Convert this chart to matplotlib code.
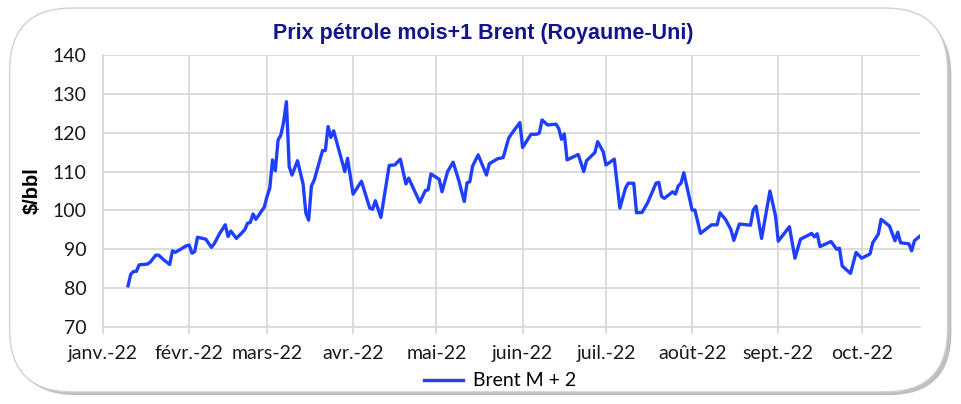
import matplotlib
matplotlib.use("Agg")
import matplotlib.pyplot as plt
from matplotlib.patches import FancyBboxPatch
import numpy as np

title = "Prix pétrole mois+1 Brent (Royaume-Uni)"
y_label = "$/bbl"
series_name = "Brent M + 2"

dates = [
    "2022-01-10", "2022-01-11", "2022-01-12", "2022-01-13", "2022-01-14", "2022-01-17",
    "2022-01-18", "2022-01-20", "2022-01-21", "2022-01-23", "2022-01-25", "2022-01-26",
    "2022-01-27", "2022-01-31", "2022-02-01", "2022-02-02", "2022-02-03", "2022-02-04",
    "2022-02-07", "2022-02-09", "2022-02-10", "2022-02-12", "2022-02-14", "2022-02-15",
    "2022-02-16", "2022-02-18", "2022-02-21", "2022-02-22", "2022-02-23", "2022-02-24",
    "2022-02-25", "2022-02-28", "2022-03-01", "2022-03-02", "2022-03-03", "2022-03-04",
    "2022-03-05", "2022-03-06", "2022-03-07", "2022-03-08", "2022-03-09", "2022-03-10",
    "2022-03-12", "2022-03-14", "2022-03-15", "2022-03-16", "2022-03-17", "2022-03-18",
    "2022-03-21", "2022-03-22", "2022-03-23", "2022-03-24", "2022-03-25", "2022-03-29",
    "2022-03-30", "2022-04-01", "2022-04-04", "2022-04-07", "2022-04-08", "2022-04-09",
    "2022-04-11", "2022-04-14", "2022-04-16", "2022-04-18", "2022-04-20", "2022-04-21",
    "2022-04-25", "2022-04-27", "2022-04-28", "2022-04-29", "2022-05-02", "2022-05-03",
    "2022-05-05", "2022-05-07", "2022-05-09", "2022-05-11", "2022-05-12", "2022-05-13",
    "2022-05-14", "2022-05-16", "2022-05-19", "2022-05-20", "2022-05-23", "2022-05-25",
    "2022-05-27", "2022-05-28", "2022-05-31", "2022-06-01", "2022-06-04", "2022-06-06",
    "2022-06-07", "2022-06-08", "2022-06-10", "2022-06-13", "2022-06-14", "2022-06-15",
    "2022-06-16", "2022-06-17", "2022-06-21", "2022-06-23", "2022-06-24", "2022-06-27",
    "2022-06-28", "2022-06-30", "2022-07-01", "2022-07-04", "2022-07-06", "2022-07-08",
    "2022-07-09", "2022-07-11", "2022-07-12", "2022-07-14", "2022-07-16", "2022-07-19",
    "2022-07-20", "2022-07-21", "2022-07-22", "2022-07-25", "2022-07-26", "2022-07-27",
    "2022-07-28", "2022-07-29", "2022-08-01", "2022-08-02", "2022-08-04", "2022-08-08",
    "2022-08-10", "2022-08-11", "2022-08-13", "2022-08-15", "2022-08-16", "2022-08-18",
    "2022-08-22", "2022-08-23", "2022-08-24", "2022-08-26", "2022-08-29", "2022-08-31",
    "2022-09-01", "2022-09-05", "2022-09-07", "2022-09-09", "2022-09-12", "2022-09-13",
    "2022-09-14", "2022-09-15", "2022-09-16", "2022-09-20", "2022-09-22", "2022-09-23",
    "2022-09-24", "2022-09-27", "2022-09-29", "2022-10-01", "2022-10-04", "2022-10-05",
    "2022-10-07", "2022-10-08", "2022-10-11", "2022-10-13", "2022-10-14", "2022-10-15",
    "2022-10-18", "2022-10-19", "2022-10-20", "2022-10-22",
]

brent = [
    80.6, 83.6, 84.3, 84.3, 86.0, 86.2,
    86.7, 88.5, 88.5, 87.2, 86.1, 89.6,
    89.2, 90.9, 91.1, 89.0, 89.4, 93.1,
    92.6, 90.5, 91.4, 94.1, 96.3, 93.3,
    94.7, 92.8, 95.0, 96.7, 96.9, 99.1,
    97.7, 100.8, 103.5, 105.7, 113.0, 110.2,
    118.1, 119.4, 122.8, 128.0, 111.3, 109.1,
    112.8, 106.8, 99.3, 97.5, 106.3, 107.8,
    115.4, 115.4, 121.6, 118.8, 120.5, 110.0,
    113.4, 104.2, 107.5, 100.6, 100.3, 102.5,
    98.2, 111.6, 111.7, 113.2, 106.8, 108.3,
    102.1, 105.1, 105.3, 109.4, 108.0, 104.8,
    110.0, 112.4, 107.8, 102.3, 107.1, 107.4,
    111.4, 114.3, 109.1, 112.0, 113.3, 113.6,
    118.6, 119.7, 122.6, 116.2, 119.6, 119.6,
    119.9, 123.3, 122.0, 122.2, 121.1, 118.3,
    119.7, 113.0, 114.4, 110.0, 112.8, 114.9,
    117.7, 115.1, 111.7, 113.2, 100.6, 105.7,
    107.0, 107.0, 99.4, 99.5, 102.0, 107.0,
    107.2, 103.6, 103.1, 104.8, 104.2, 106.3,
    107.0, 109.7, 100.1, 100.1, 94.1, 96.3,
    96.3, 99.4, 97.7, 95.0, 92.3, 96.5,
    96.2, 100.1, 101.1, 92.8, 105.0, 98.6,
    92.1, 95.8, 87.7, 92.6, 93.7, 94.1,
    93.2, 94.0, 90.7, 92.0, 90.0, 90.3,
    85.7, 83.8, 89.2, 87.7, 88.8, 91.7,
    93.9, 97.7, 96.0, 92.2, 94.4, 91.7,
    91.4, 89.6, 92.2, 93.4,
]

month_ticks = ["2022-01-01", "2022-02-01", "2022-03-01", "2022-04-01", "2022-05-01",
               "2022-06-01", "2022-07-01", "2022-08-01", "2022-09-01", "2022-10-01"]
month_labels = ["janv.-22", "févr.-22", "mars-22", "avr.-22", "mai-22",
                "juin-22", "juil.-22", "août-22", "sept.-22", "oct.-22"]
y_ticks = [70, 80, 90, 100, 110, 120, 130, 140]

x = np.array(dates, dtype="datetime64[D]")
xt = np.array(month_ticks, dtype="datetime64[D]")

fig = plt.figure(figsize=(9.61, 4.04), dpi=100)
fig.patch.set_facecolor("white")

# rounded chart-area border with shadow
shadow = FancyBboxPatch((0.014, 0.022), 0.976, 0.945,
                        boxstyle="round,pad=0,rounding_size=0.065",
                        transform=fig.transFigure, facecolor="#BFBFBF",
                        edgecolor="none", zorder=-2, mutation_aspect=961/404)
fig.patches.append(shadow)
box = FancyBboxPatch((0.010, 0.030), 0.976, 0.950,
                     boxstyle="round,pad=0,rounding_size=0.065",
                     transform=fig.transFigure, facecolor="white",
                     edgecolor="#D0D0D0", linewidth=1.0, zorder=-1,
                     mutation_aspect=961/404)
fig.patches.append(box)

ax = fig.add_axes([103/961, 1-327/404, (920-103)/961, (327-55)/404])
ax.set_zorder(3)
ax.set_facecolor("none")
ax.plot(x, brent, color="#1F3FFF", linewidth=2.4, label=series_name, zorder=3)

ax.set_xlim(np.datetime64("2022-01-01"), np.datetime64("2022-10-22"))
ax.set_ylim(70, 140)
ax.set_yticks(y_ticks)
ax.set_yticklabels([str(v) for v in y_ticks])
ax.set_xticks(xt)
ax.set_xticklabels(month_labels)

grid_c = "#D9D9D9"
ax.grid(True, color=grid_c, linewidth=1.3, zorder=0)
ax.set_axisbelow(True)
for s in ["top", "right"]:
    ax.spines[s].set_visible(False)
ax.spines["left"].set_color(grid_c)
ax.spines["left"].set_linewidth(1.3)
ax.spines["bottom"].set_color(grid_c)
ax.spines["bottom"].set_linewidth(1.3)

tick_font = "Lato"
ax.tick_params(axis="y", length=0, pad=12, labelsize=14, labelcolor="#1a1a1a")
ax.tick_params(axis="x", length=5, width=1.3, color=grid_c, pad=8, labelsize=14,
               labelcolor="#1a1a1a")
for lab in ax.get_xticklabels() + ax.get_yticklabels():
    lab.set_fontfamily(tick_font)

ax.set_ylabel(y_label, fontsize=14.5, fontweight="bold", family="Liberation Sans",
              labelpad=8)
fig.text(483/961, 1-33/404, title, ha="center", va="center", fontsize=15.5,
         fontweight="bold", color="#14148C", family="Liberation Sans")

leg = fig.legend(loc="center", bbox_to_anchor=(500/961, 1-381/404), frameon=False,
                 handlelength=2.0, handletextpad=0.5,
                 prop={"family": tick_font, "size": 14})

fig.savefig("out.png", dpi=100)
